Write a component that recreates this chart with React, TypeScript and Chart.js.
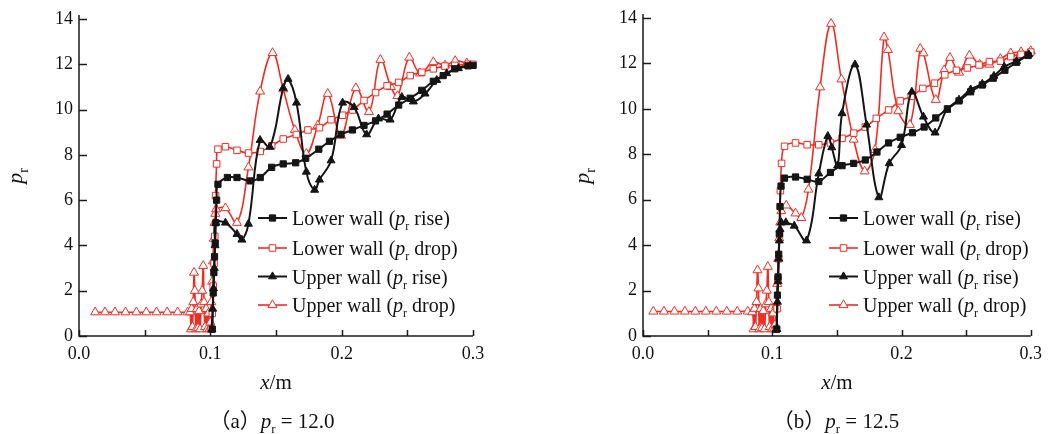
import React, { useEffect, useRef } from 'react';
import { Chart, registerables } from 'chart.js';

Chart.register(...registerables);

type Pt = [number, number];

// ---------- (a) p_r = 12.0 ----------
const lowerRiseA: Pt[] = [
  [0.1015, 0.3], [0.1022, 1.9], [0.1027, 2.8], [0.1032, 3.5], [0.1037, 4.1], [0.1042, 5.0],
  [0.1048, 6.0], [0.1058, 6.7], [0.113, 7.0], [0.1203, 7.0], [0.1304, 6.85], [0.138, 7.0],
  [0.1467, 7.45], [0.1555, 7.6], [0.165, 7.65], [0.1726, 7.85], [0.1826, 8.25], [0.1907, 8.6],
  [0.1995, 8.9], [0.2082, 9.1], [0.217, 9.3], [0.2258, 9.5], [0.2346, 9.8], [0.2434, 10.2],
  [0.2522, 10.5], [0.261, 10.85], [0.2698, 11.25], [0.2773, 11.5], [0.2861, 11.8], [0.2962, 11.93], [0.3, 11.95],
];

const lowerDropA: Pt[] = [
  [0.1005, 0.3], [0.1015, 1.0], [0.1022, 2.2], [0.1028, 3.2], [0.1034, 4.4], [0.104, 6.2],
  [0.1048, 7.6], [0.1058, 8.25], [0.1115, 8.36], [0.1203, 8.2], [0.1291, 8.08], [0.138, 8.15],
  [0.1467, 8.4], [0.1555, 8.7], [0.1655, 8.9], [0.1743, 9.1], [0.1831, 9.2], [0.1919, 9.55],
  [0.2007, 9.75], [0.2082, 9.98], [0.217, 10.4], [0.2258, 10.75], [0.2346, 11.05], [0.2434, 11.2],
  [0.2522, 11.5], [0.261, 11.65], [0.2698, 11.8], [0.2786, 11.92], [0.2861, 11.95], [0.2962, 12.0], [0.3, 12.0],
];

const upperRiseA: Pt[] = [
  [0.1012, 0.3], [0.1018, 1.2], [0.1024, 2.1], [0.103, 3.0], [0.1036, 4.0], [0.1042, 5.0],
  [0.1115, 5.0], [0.1203, 4.5], [0.124, 4.25], [0.129, 4.95], [0.1379, 8.65], [0.1454, 8.35],
  [0.1555, 10.95], [0.1592, 11.35], [0.1656, 10.3], [0.1731, 7.25], [0.1794, 6.45], [0.1831, 6.9],
  [0.1919, 7.75], [0.2007, 10.3], [0.2095, 10.1], [0.219, 8.9], [0.228, 9.6], [0.2369, 9.55],
  [0.2458, 10.55], [0.2546, 10.35], [0.2635, 10.7], [0.2724, 11.3], [0.28, 11.6], [0.2889, 11.82], [0.2978, 11.93],
];

const upperDropA: Pt[] = [
  [0.0123, 1.05], [0.0198, 1.05], [0.0274, 1.05], [0.0354, 1.05], [0.0437, 1.05], [0.0512, 1.05],
  [0.059, 1.05], [0.0671, 1.05], [0.0751, 1.05], [0.0827, 1.05],
  [0.0845, 1.05], [0.0852, 0.3], [0.0858, 1.2], [0.0864, 0.4], [0.087, 1.5], [0.0876, 2.8],
  [0.0882, 2.0], [0.089, 0.3], [0.0898, 1.2], [0.0906, 0.35], [0.0914, 1.1], [0.0922, 0.3],
  [0.093, 1.4], [0.0938, 2.0], [0.0946, 3.1], [0.0952, 1.5], [0.096, 0.4], [0.0968, 1.2],
  [0.0976, 0.3], [0.0985, 1.0], [0.0993, 0.3], [0.1, 0.6], [0.1007, 1.5], [0.1014, 2.4],
  [0.102, 3.3], [0.1026, 4.3], [0.1032, 5.0], [0.1038, 5.4], [0.1044, 5.6],
  [0.1115, 5.65], [0.1203, 5.0], [0.129, 7.45], [0.1379, 10.8], [0.1474, 12.5], [0.1555, 10.9],
  [0.1643, 9.1], [0.1731, 8.05], [0.1818, 9.3], [0.1894, 10.7], [0.1995, 8.85], [0.2108, 10.95],
  [0.2208, 9.9], [0.2295, 12.2], [0.2375, 11.0], [0.2425, 10.6], [0.2515, 12.3], [0.2597, 11.6],
  [0.2698, 12.1], [0.2787, 11.95], [0.2864, 12.15], [0.2953, 12.05],
];

// ---------- (b) p_r = 12.5 ----------
const lowerRiseB: Pt[] = [
  [0.1035, 0.3], [0.104, 1.8], [0.1045, 2.6], [0.105, 3.6], [0.1055, 4.5], [0.106, 5.7],
  [0.1068, 6.6], [0.1095, 6.95], [0.118, 7.0], [0.127, 6.9], [0.136, 6.8], [0.145, 7.2],
  [0.154, 7.5], [0.163, 7.6], [0.172, 7.75], [0.181, 8.1], [0.19, 8.5], [0.199, 8.75],
  [0.2085, 8.95], [0.2175, 9.2], [0.2265, 9.6], [0.2355, 10.0], [0.2445, 10.35], [0.2535, 10.75],
  [0.2625, 11.05], [0.271, 11.35], [0.28, 11.7], [0.289, 12.05], [0.298, 12.35],
];

const lowerDropB: Pt[] = [
  [0.103, 0.3], [0.1037, 1.2], [0.1043, 2.5], [0.105, 3.4], [0.1057, 4.5], [0.1063, 6.4],
  [0.1072, 7.6], [0.1095, 8.35], [0.118, 8.5], [0.127, 8.42], [0.136, 8.42], [0.145, 8.5],
  [0.154, 8.7], [0.163, 8.93], [0.172, 9.2], [0.1805, 9.58], [0.19, 9.95], [0.199, 10.35],
  [0.2075, 10.55], [0.2165, 10.9], [0.2255, 11.13], [0.2335, 11.5], [0.2425, 11.7], [0.251, 11.8],
  [0.26, 11.93], [0.268, 12.08], [0.2765, 12.1], [0.2845, 12.3], [0.2925, 12.4], [0.3, 12.5],
];

const upperRiseB: Pt[] = [
  [0.1035, 0.3], [0.104, 1.5], [0.1045, 2.4], [0.105, 3.4], [0.1055, 4.2], [0.106, 4.7],
  [0.107, 5.0], [0.1105, 5.0], [0.117, 4.85], [0.1265, 4.2], [0.136, 7.15], [0.143, 8.8],
  [0.146, 8.3], [0.1505, 7.5], [0.154, 9.8], [0.164, 11.95], [0.173, 9.3], [0.1825, 6.1],
  [0.1905, 7.6], [0.2, 8.4], [0.208, 10.75], [0.217, 9.65], [0.226, 8.95], [0.235, 9.95],
  [0.2445, 10.4], [0.2535, 10.85], [0.2625, 11.1], [0.2715, 11.45], [0.2795, 11.85], [0.289, 12.1], [0.2985, 12.4],
];

const upperDropB: Pt[] = [
  [0.008, 1.08], [0.0162, 1.08], [0.0243, 1.08], [0.0324, 1.08], [0.0405, 1.08], [0.0486, 1.08],
  [0.0567, 1.08], [0.0648, 1.08], [0.0729, 1.08], [0.081, 1.08],
  [0.0845, 1.05], [0.0855, 0.3], [0.0863, 1.2], [0.087, 0.4], [0.0878, 1.5], [0.0886, 2.9],
  [0.0893, 2.1], [0.09, 0.3], [0.091, 1.2], [0.092, 0.35], [0.093, 1.1], [0.094, 0.3],
  [0.095, 1.4], [0.0958, 2.0], [0.0966, 3.05], [0.0973, 1.5], [0.098, 0.4], [0.099, 1.2],
  [0.0998, 0.3], [0.1006, 1.0], [0.1014, 0.3], [0.1022, 0.5], [0.103, 1.3], [0.1038, 2.3],
  [0.1046, 3.4], [0.1054, 4.3], [0.1062, 5.0], [0.107, 5.5],
  [0.1108, 5.75], [0.118, 5.4], [0.1225, 5.2], [0.128, 6.45], [0.137, 10.95], [0.1455, 13.75],
  [0.1535, 11.3], [0.163, 8.65], [0.1715, 7.25], [0.1795, 8.2], [0.1865, 13.15], [0.1895, 12.6],
  [0.1975, 9.9], [0.2065, 9.3], [0.2145, 12.65], [0.217, 12.45], [0.2265, 10.4], [0.233, 11.7],
  [0.2375, 12.25], [0.2445, 11.6], [0.2525, 12.35], [0.2605, 11.95], [0.268, 11.95], [0.2765, 12.2],
  [0.2845, 12.45], [0.2925, 12.5], [0.3, 12.55],
];

// ---------- axes ----------
const xTickValues = [0, 0.05, 0.1, 0.15, 0.2, 0.25, 0.3];
const xTickLabels = ['0.0', '', '0.1', '', '0.2', '', '0.3'];
const yTickValues = [0, 2, 4, 6, 8, 10, 12, 14];
const yTickLabels = ['0', '2', '4', '6', '8', '10', '12', '14'];

const seriesNames = ['Lower wall', 'Lower wall', 'Upper wall', 'Upper wall'];
const seriesTrend = [' rise)', ' drop)', ' rise)', ' drop)'];

const BLACK = '#151515';
const RED = '#ee2e24';
const SERIF = '"Liberation Serif", "Times New Roman", "Noto Sans CJK SC", serif';
const H = 434;

type Style = { color: string; fill: string; shape: 'rect' | 'triangle'; radius: number; width: number };
const styles: Style[] = [
  { color: BLACK, fill: BLACK, shape: 'rect', radius: 4.4, width: 2 },
  { color: RED, fill: '#ffffff', shape: 'rect', radius: 4.6, width: 1.6 },
  { color: BLACK, fill: BLACK, shape: 'triangle', radius: 4.6, width: 2 },
  { color: RED, fill: '#ffffff', shape: 'triangle', radius: 5.2, width: 1.6 },
];

type Run = { t: string; italic?: boolean; sub?: boolean };

function runFont(r: Run, size: number) {
  const s = r.sub ? Math.round(size * 0.62) : size;
  return `${r.italic ? 'italic ' : ''}${s}px ${SERIF}`;
}

function runsWidth(ctx: CanvasRenderingContext2D, runs: Run[], size: number) {
  let w = 0;
  for (const r of runs) {
    ctx.font = runFont(r, size);
    w += ctx.measureText(r.t).width;
  }
  return w;
}

function drawRuns(ctx: CanvasRenderingContext2D, runs: Run[], x: number, baseline: number, size: number, align: 'left' | 'center') {
  let cx = align === 'center' ? x - runsWidth(ctx, runs, size) / 2 : x;
  ctx.textAlign = 'left';
  ctx.textBaseline = 'alphabetic';
  for (const r of runs) {
    ctx.font = runFont(r, size);
    ctx.fillText(r.t, cx, r.sub ? baseline + size * 0.26 : baseline);
    cx += ctx.measureText(r.t).width;
  }
}

function drawMarker(ctx: CanvasRenderingContext2D, st: Style, x: number, y: number) {
  ctx.beginPath();
  if (st.shape === 'rect') {
    const s = st.radius * Math.SQRT1_2;
    ctx.rect(x - s, y - s, 2 * s, 2 * s);
  } else {
    const r = st.radius;
    ctx.moveTo(x, y - r);
    ctx.lineTo(x + 0.866 * r, y + 0.5 * r);
    ctx.lineTo(x - 0.866 * r, y + 0.5 * r);
    ctx.closePath();
  }
  ctx.fillStyle = st.fill;
  ctx.fill();
  ctx.lineWidth = 1;
  ctx.strokeStyle = st.color;
  ctx.stroke();
}

type PanelCfg = {
  left: number;
  width: number;
  plotLeft: number;
  plotRight: number;
  plotTop: number;
  letter: string;
  prValue: string;
  series: Pt[][];
  legendX: number;
  yTitleX: number;
  captionX: number;
};

const panels: PanelCfg[] = [
  {
    left: 0, width: 520, plotLeft: 79, plotRight: 473, plotTop: 19, letter: 'a', prValue: '12.0',
    series: [lowerRiseA, lowerDropA, upperRiseA, upperDropA], legendX: 258, yTitleX: 19, captionX: 272,
  },
  {
    left: 520, width: 529, plotLeft: 123, plotRight: 512, plotTop: 18, letter: 'b', prValue: '12.5',
    series: [lowerRiseB, lowerDropB, upperRiseB, upperDropB], legendX: 309, yTitleX: 66, captionX: 316,
  },
];

const legendRowsY = [218, 248, 276.5, 305];

function makeFramePlugin(cfg: PanelCfg) {
  return {
    id: 'frame' + cfg.letter,
    afterDraw(chart: any) {
      const ctx: CanvasRenderingContext2D = chart.ctx;
      const { left, right, top, bottom } = chart.chartArea;
      const xs = chart.scales.x;
      const ys = chart.scales.y;
      ctx.save();
      ctx.strokeStyle = '#1a1a1a';
      ctx.lineWidth = 1.5;
      ctx.beginPath();
      ctx.moveTo(left, top - 4);
      ctx.lineTo(left, bottom);
      ctx.lineTo(right, bottom);
      ctx.stroke();
      ctx.beginPath();
      for (const v of yTickValues) {
        const y = Math.round(ys.getPixelForValue(v)) + 0.5;
        ctx.moveTo(left, y);
        ctx.lineTo(left + 8, y);
      }
      for (const v of xTickValues) {
        const x = Math.round(xs.getPixelForValue(v)) + 0.5;
        ctx.moveTo(x, bottom);
        ctx.lineTo(x, bottom - 6);
      }
      ctx.stroke();

      ctx.fillStyle = '#111';
      // y title
      ctx.save();
      ctx.translate(cfg.yTitleX, 176);
      ctx.rotate(-Math.PI / 2);
      drawRuns(ctx, [{ t: 'p', italic: true }, { t: 'r', sub: true }], 0, 3, 22, 'center');
      ctx.restore();
      // x title
      drawRuns(ctx, [{ t: 'x', italic: true }, { t: '/m' }], (left + right) / 2, 389, 21, 'center');
      // caption
      drawRuns(
        ctx,
        [{ t: '（' + cfg.letter + '）' }, { t: 'p', italic: true }, { t: 'r', sub: true }, { t: ' = ' + cfg.prValue }],
        cfg.captionX, 428, 21, 'center'
      );
      // legend
      styles.forEach((st, i) => {
        const y = legendRowsY[i];
        ctx.beginPath();
        ctx.strokeStyle = st.color;
        ctx.lineWidth = st.width;
        ctx.moveTo(cfg.legendX, y);
        ctx.lineTo(cfg.legendX + 29, y);
        ctx.stroke();
        drawMarker(ctx, st, cfg.legendX + 14.5, y);
        ctx.fillStyle = '#111';
        drawRuns(
          ctx,
          [{ t: seriesNames[i] + ' (' }, { t: 'p', italic: true }, { t: 'r', sub: true }, { t: seriesTrend[i] }],
          cfg.legendX + 34, y + 7, 20, 'left'
        );
      });
      ctx.restore();
    },
  };
}

function Panel({ cfg }: { cfg: PanelCfg }) {
  const ref = useRef<HTMLCanvasElement>(null);
  useEffect(() => {
    const canvas = ref.current;
    if (!canvas) return;
    // draw order: first dataset ends up on top
    const order = [0, 2, 1, 3];
    const datasets = order.map((i) => {
      const st = styles[i];
      return {
        data: cfg.series[i].map(([x, y]) => ({ x, y })),
        borderColor: st.color,
        borderWidth: st.width,
        backgroundColor: st.fill,
        pointBackgroundColor: st.fill,
        pointBorderColor: st.color,
        pointBorderWidth: 1,
        pointStyle: st.shape,
        pointRadius: st.radius,
        pointHoverRadius: st.radius,
        tension: 0.4,
        fill: false,
        clip: false as any,
      };
    });
    const chart = new Chart(canvas, {
      type: 'line',
      data: { datasets },
      options: {
        responsive: false,
        animation: false,
        devicePixelRatio: 1,
        events: [],
        layout: { padding: { left: 0, right: cfg.width - cfg.plotRight, top: cfg.plotTop, bottom: 0 } },
        plugins: { legend: { display: false }, tooltip: { enabled: false } },
        scales: {
          x: {
            type: 'linear',
            min: 0,
            max: 0.3,
            grid: { display: false, drawTicks: false },
            border: { display: false },
            afterBuildTicks: (s: any) => {
              s.ticks = xTickValues.map((v) => ({ value: v }));
            },
            afterFit: (s: any) => {
              s.height = H - 336;
            },
            ticks: {
              padding: 7,
              color: '#111',
              autoSkip: false,
              maxRotation: 0,
              font: { family: SERIF, size: 18 },
              callback: (_v: any, i: number) => xTickLabels[i],
            },
          },
          y: {
            type: 'linear',
            min: 0,
            max: 14,
            grid: { display: false, drawTicks: false },
            border: { display: false },
            afterBuildTicks: (s: any) => {
              s.ticks = yTickValues.map((v) => ({ value: v }));
            },
            afterFit: (s: any) => {
              s.width = cfg.plotLeft;
            },
            ticks: {
              padding: 6,
              color: '#111',
              autoSkip: false,
              font: { family: SERIF, size: 18 },
              callback: (_v: any, i: number) => yTickLabels[i],
            },
          },
        },
      },
      plugins: [makeFramePlugin(cfg)],
    });
    return () => chart.destroy();
  }, [cfg]);
  return (
    <canvas
      ref={ref}
      width={cfg.width}
      height={H}
      style={{ position: 'absolute', left: cfg.left, top: 0, width: cfg.width, height: H }}
    />
  );
}

export default function App() {
  return (
    <div style={{ position: 'fixed', left: 0, top: 0, width: 1049, height: H, background: '#fff' }}>
      {panels.map((p) => (
        <Panel key={p.letter} cfg={p} />
      ))}
    </div>
  );
}
